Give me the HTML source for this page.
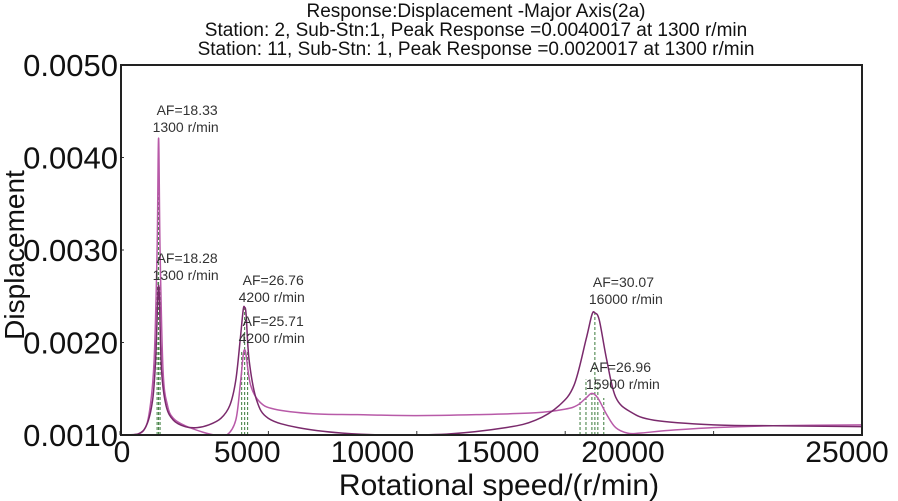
<!DOCTYPE html>
<html><head><meta charset="utf-8"><style>
body{margin:0;background:#fff;}
svg{display:block;font-family:"Liberation Sans",sans-serif;}
</style></head><body>
<svg id="chart" width="898" height="501" viewBox="0 0 898 501">
<g font-size="19" fill="#111" text-anchor="middle">
<text x="476" y="17">Response:Displacement -Major Axis(2a)</text>
<text x="476" y="36">Station: 2, Sub-Stn:1, Peak Response =0.0040017 at 1300 r/min</text>
<text x="476" y="55">Station: 11, Sub-Stn: 1, Peak Response =0.0020017 at 1300 r/min</text>
</g>
<g id="ticks"></g>
<g id="marks"></g>
<rect x="121" y="65" width="741" height="370" fill="none" stroke="#222" stroke-width="2"/>
<text x="499" y="495" font-size="30" text-anchor="middle" fill="#111">Rotational speed/(r/min)</text>
<text transform="translate(24,255) rotate(-90)" font-size="28" text-anchor="middle" fill="#111">Displacement</text>
</svg>
<script>
const xTicks=[0,5000,10000,15000,20000,25000];
const xTickLabels=["0","5000","10000","15000","20000","25000"];
const yTicks=[0.001,0.002,0.003,0.004,0.005];
const yTickLabels=["0.0010","0.0020","0.0030","0.0040","0.0050"];
const lightRpm=[0,400,800,1000,1150,1250,1300,1350,1450,1600,1800,2200,2800,3200,3600,3900,4050,4150,4200,4250,4400,4700,5200,6500,8000,10000,12000,14000,15000,15400,15700,15900,16100,16400,16700,17100,17500,18500,20000,22000,25000];
const lightVal=[0.00099,0.00099,0.00105,0.00127,0.00181,0.0030,0.00421,0.0030,0.0017,0.00132,0.00118,0.0011,0.00103,0.001,0.00099,0.00116,0.00154,0.00186,0.00192,0.00186,0.00154,0.00136,0.00128,0.00123,0.00122,0.00121,0.00122,0.00124,0.00128,0.00132,0.0014,0.00145,0.0014,0.00122,0.00108,0.00102,0.00102,0.00105,0.00108,0.0011,0.00111];
const darkRpm=[0,600,900,1100,1200,1270,1300,1330,1400,1550,1800,2200,2600,3000,3400,3700,3900,4050,4150,4200,4250,4350,4600,5000,6000,7500,9000,11000,13000,14000,14800,15300,15700,15900,16000,16150,16400,16700,17200,18000,20000,22000,25000];
const darkVal=[0.00099,0.00101,0.00111,0.00138,0.00181,0.00246,0.00262,0.00246,0.0017,0.00132,0.00116,0.00109,0.00108,0.00111,0.00118,0.00132,0.00159,0.00203,0.00235,0.00238,0.0023,0.00181,0.00138,0.00118,0.00108,0.00102,0.001,0.00101,0.00108,0.00116,0.00132,0.00154,0.00203,0.0023,0.00232,0.00224,0.00181,0.00141,0.00125,0.00116,0.00111,0.0011,0.00109];
const markerRpm=[1250,1300,1350,4100,4200,4300,15500,15700,15900,16000,16100,16300];
const markerTop=[0.0030,0.00421,0.0026,0.0019,0.00238,0.0019,0.0014,0.0016,0.00145,0.00232,0.0016,0.0014];
const annText=[["AF=18.33","1300 r/min"],["AF=18.28","1300 r/min"],["AF=26.76","4200 r/min"],["AF=25.71","4200 r/min"],["AF=30.07","16000 r/min"],["AF=26.96","15900 r/min"]];
const annRpm=[1300,1300,4200,4200,16000,15900];
const annVal=[0.00446,0.00286,0.00262,0.00218,0.0026,0.00168];

const X0=120,X1=862,Y0=435,Y1=65;
function x(r){return X0+r*(X1-X0)/25000;}
function y(v){return Y0-(v-0.001)*(Y0-Y1)/0.004;}
function xl(r){return r===25000?847:122+r*0.02505;}
const NS="http://www.w3.org/2000/svg";
const ticks=document.getElementById('ticks'),marks=document.getElementById('marks');
function mk(t,a,p){const e=document.createElementNS(NS,t);for(const k in a)e.setAttribute(k,a[k]);p.appendChild(e);return e;}
xTicks.forEach((t,i)=>{
 const l=mk('line',{x1:x(t),x2:x(t),y1:Y0,y2:Y0-4,stroke:'#333'},ticks);
 
 
 const tx=mk('text',{x:xl(t),y:462,'font-size':30,'text-anchor':'middle',fill:'#111'},ticks);
 tx.textContent=xTickLabels[i];
 
 
});
yTicks.forEach((t,i)=>{
 const l=mk('line',{x1:X0,x2:X0+4,y1:y(t),y2:y(t),stroke:'#333'},ticks);
 
 
 const tx=mk('text',{x:118,y:y(t)+11,'font-size':31,'text-anchor':'end',fill:'#111'},ticks);
 tx.textContent=yTickLabels[i];
 
 
});
markerRpm.forEach((r,i)=>{
 const l=mk('line',{x1:x(r),x2:x(r),y1:Y0,y2:y(markerTop[i]),stroke:'#3a7a3a','stroke-width':1,'stroke-dasharray':'3,2'},marks);
 
 
});
function path(rs,vs){
 const p=rs.map((r,i)=>[x(r),Math.min(Y0,y(vs[i]))]);
 let d='M'+p[0][0]+','+p[0][1];
 for(let i=0;i<p.length-1;i++){
  const a=p[Math.max(0,i-1)],b=p[i],c=p[i+1],e=p[Math.min(p.length-1,i+2)];
  const c1=[b[0]+(c[0]-a[0])/6,b[1]+(c[1]-a[1])/6],c2=[c[0]-(e[0]-b[0])/6,c[1]-(e[1]-b[1])/6];
  d+=' C'+c1[0]+','+Math.min(Y0,c1[1])+' '+c2[0]+','+Math.min(Y0,c2[1])+' '+c[0]+','+c[1];
 }
 return d;
}
const s1=mk('path',{d:path(lightRpm,lightVal),fill:'none',stroke:'#b85aa8','stroke-width':1.5},marks);


const s2=mk('path',{d:path(darkRpm,darkVal),fill:'none',stroke:'#7a2a6c','stroke-width':1.5},marks);


annText.forEach((t,i)=>{
 const g=mk('text',{'font-size':14,fill:'#333'},marks);
 
 
 const ax=x(annRpm[i])-2,ay=y(annVal[i]);
 const a=mk('tspan',{x:ax,y:ay},g);a.textContent=t[0];
 const b=mk('tspan',{x:ax-4,y:ay+17},g);b.textContent=t[1];
});
</script>
</body></html>
